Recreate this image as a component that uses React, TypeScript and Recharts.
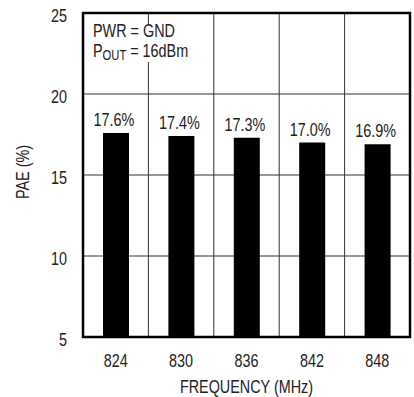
import React from "react";
import {
  BarChart,
  Bar,
  XAxis,
  YAxis,
  CartesianGrid,
  LabelList,
  Customized,
} from "recharts";

const frequencies = ["824", "830", "836", "842", "848"];
const paeValues = [17.6, 17.4, 17.3, 17.0, 16.9];
const yTicks = [5, 10, 15, 20, 25];

const data = frequencies.map((f, i) => ({ freq: f, pae: paeValues[i] }));

// Helvetica Narrow look: Arial-metric font squeezed horizontally
const FONT = "'Liberation Sans', Arial, sans-serif";
const SQUEEZE = 0.8;
const FS = 18;
const INK = "#222";

// plot area, fixed by margins below
const W = 414;
const H = 397;
const LEFT = 83;
const TOP = 13;
const RIGHT = 4;
const BOTTOM = 60;
const PW = W - LEFT - RIGHT;
const PH = H - TOP - BOTTOM;

const NText = ({ x, y, anchor = "start", rotate = 0, size = FS, children }: any) => (
  <text
    transform={`translate(${x} ${y}) rotate(${rotate}) scale(${SQUEEZE} 1)`}
    textAnchor={anchor}
    fontSize={size}
    fill={INK}
    fontFamily={FONT}
  >
    {children}
  </text>
);

const YTick = (props: any) => {
  const { y, payload } = props;
  return <NText x={LEFT - 16} y={y + 9} anchor="end">{payload.value}</NText>;
};

const XTick = (props: any) => {
  const { x, payload } = props;
  return <NText x={x} y={TOP + PH + 30} anchor="middle">{payload.value}</NText>;
};

const BarLabel = (props: any) => {
  const { x, y, width, value } = props;
  return (
    <NText x={x + width / 2 - 2} y={y - 7} anchor="middle">
      {`${Number(value).toFixed(1)}%`}
    </NText>
  );
};

// frame, axis titles and annotation box
const Overlay = () => (
  <g>
    <rect x={LEFT} y={TOP} width={PW} height={PH} fill="none" stroke="#000" strokeWidth={2.5} />
    <rect x={89} y={25} width={110} height={37} fill="#fff" />
    <NText x={93} y={37}>PWR = GND</NText>
    <NText x={93} y={57}>
      P
      <tspan fontSize={14} dy={3}>OUT</tspan>
      <tspan dy={-3}> = 16dBm</tspan>
    </NText>
    <NText x={LEFT + PW / 2} y={393} anchor="middle">FREQUENCY (MHz)</NText>
    <NText x={29} y={172} anchor="middle" rotate={-90}>PAE (%)</NText>
  </g>
);

export default function App() {
  return (
    <div style={{ position: "absolute", top: 0, left: 0, background: "#fff" }}>
      <BarChart
        width={W}
        height={H}
        data={data}
        margin={{ top: TOP, right: RIGHT, left: 0, bottom: 0 }}
        barSize={26}
      >
        <CartesianGrid
          stroke="#333"
          strokeWidth={1}
          horizontalPoints={[10, 15, 20].map((v) => TOP + PH - ((v - 5) / 20) * PH)}
          verticalPoints={[1, 2, 3, 4].map((i) => LEFT + (i * PW) / 5)}
        />
        <XAxis
          dataKey="freq"
          height={BOTTOM}
          axisLine={false}
          tickLine={false}
          tick={<XTick />}
        />
        <YAxis
          width={LEFT}
          domain={[5, 25]}
          ticks={yTicks}
          allowDataOverflow
          axisLine={false}
          tickLine={false}
          tick={<YTick />}
        />
        <Bar dataKey="pae" fill="#000" isAnimationActive={false}>
          <LabelList dataKey="pae" content={<BarLabel />} />
        </Bar>
        <Customized component={<Overlay />} />
      </BarChart>
    </div>
  );
}
